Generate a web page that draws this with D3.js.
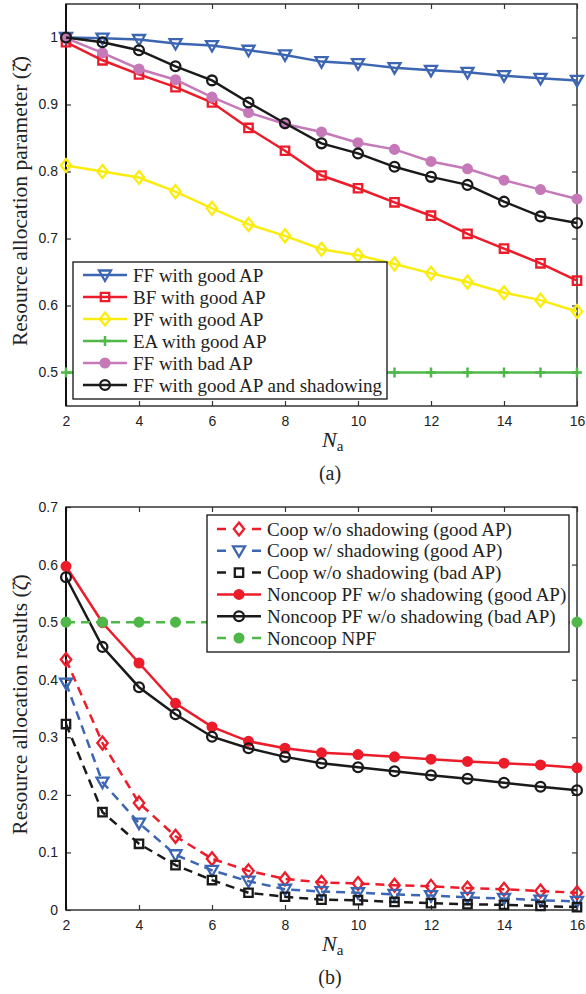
<!DOCTYPE html>
<html>
<head>
<meta charset="utf-8">
<script src="https://cdn.jsdelivr.net/npm/d3@7"></script>
<style>
  body { margin: 0; background: #fff; }
  svg { display: block; }
  .tick text { font-family: "Liberation Sans", Arial, sans-serif; font-size: 14px; fill: #222; }
  .serif { font-family: "Liberation Serif", "Times New Roman", serif; fill: #222; }
</style>
</head>
<body>
<script>
// number of APs on the x axis
const naValues = [2, 3, 4, 5, 6, 7, 8, 9, 10, 11, 12, 13, 14, 15, 16];
const xTicks = [2, 4, 6, 8, 10, 12, 14, 16];

// panel (a): resource allocation parameter
const ffGoodAP = [1.0, 0.999, 0.997, 0.991, 0.988, 0.981, 0.974, 0.964, 0.961, 0.955, 0.951, 0.948, 0.943, 0.939, 0.936];
const bfGoodAP = [0.993, 0.966, 0.945, 0.926, 0.903, 0.865, 0.831, 0.794, 0.775, 0.754, 0.734, 0.707, 0.685, 0.663, 0.637];
const pfGoodAP = [0.809, 0.800, 0.791, 0.770, 0.745, 0.721, 0.704, 0.684, 0.675, 0.662, 0.648, 0.635, 0.619, 0.608, 0.591];
const eaGoodAP = [0.5, 0.5, 0.5, 0.5, 0.5, 0.5, 0.5, 0.5, 0.5, 0.5, 0.5, 0.5, 0.5, 0.5, 0.5];
const ffBadAP = [0.999, 0.977, 0.953, 0.937, 0.911, 0.888, 0.871, 0.859, 0.843, 0.833, 0.815, 0.804, 0.787, 0.773, 0.759];
const ffGoodAPShadow = [1.0, 0.993, 0.981, 0.957, 0.936, 0.903, 0.872, 0.842, 0.827, 0.807, 0.792, 0.780, 0.755, 0.733, 0.723];
const yTicksA = [0.5, 0.6, 0.7, 0.8, 0.9, 1];

// panel (b): resource allocation results
const coopGoodAP = [0.435, 0.290, 0.186, 0.128, 0.089, 0.068, 0.054, 0.048, 0.046, 0.043, 0.041, 0.038, 0.036, 0.033, 0.030];
const coopShadowGoodAP = [0.394, 0.222, 0.151, 0.096, 0.069, 0.050, 0.036, 0.032, 0.030, 0.027, 0.025, 0.022, 0.020, 0.017, 0.015];
const coopBadAP = [0.323, 0.170, 0.115, 0.078, 0.052, 0.030, 0.023, 0.018, 0.017, 0.014, 0.012, 0.010, 0.009, 0.007, 0.005];
const noncoopGoodAP = [0.597, 0.499, 0.429, 0.359, 0.318, 0.293, 0.281, 0.273, 0.270, 0.266, 0.262, 0.258, 0.255, 0.252, 0.247];
const noncoopBadAP = [0.578, 0.457, 0.387, 0.340, 0.301, 0.281, 0.266, 0.255, 0.248, 0.241, 0.234, 0.228, 0.221, 0.214, 0.208];
const noncoopNPF = [0.5, 0.5, 0.5, 0.5, 0.5, 0.5, 0.5, 0.5, 0.5, 0.5, 0.5, 0.5, 0.5, 0.5, 0.5];
const yTicksB = [0, 0.1, 0.2, 0.3, 0.4, 0.5, 0.6, 0.7];

const colors = {
    blue: '#3d66b2',
    red: '#ec1c2a',
    yellow: '#fbec10',
    green: '#4fb848',
    pink: '#c679b8',
    black: '#1a1a1a'
};

const svg = d3.select('body').append('svg')
    .attr('width', 586)
    .attr('height', 994);

// marker path generators, centred on 0,0
const markerPath = {
    tri: 'M-6,-4.5 L6,-4.5 L0,6 Z',
    square: 'M-4.2,-4.2 H4.2 V4.2 H-4.2 Z',
    diamond: 'M0,-6.5 L5.2,0 L0,6.5 L-5.2,0 Z',
    circle: d3.symbol(d3.symbolCircle, 75)(),
    dot: d3.symbol(d3.symbolCircle, 60)(),
    plus: 'M-5,0 H5 M0,-5 V5'
};

function drawMarker(g, shape, color, cx, cy) {
    const filled = shape === 'dot';
    g.append('path')
        .attr('d', markerPath[shape])
        .attr('transform', `translate(${cx},${cy})`)
        .attr('fill', filled ? color : 'none')
        .attr('stroke', color)
        .attr('stroke-width', shape === 'plus' ? 2.5 : 2.3);
}

function drawPanel(opts) {
    const x = d3.scaleLinear().domain([2, 16]).range([66, 577]);
    const y = d3.scaleLinear().domain(opts.yDomain).range([opts.bottom, opts.top]);
    const g = svg.append('g');

    // axes, ticks pointing inwards on every side
    g.append('g')
        .attr('transform', `translate(0,${opts.bottom})`)
        .call(d3.axisBottom(x).tickValues(xTicks).tickSizeInner(-5).tickSizeOuter(0).tickPadding(10));
    g.append('g')
        .attr('transform', `translate(0,${opts.top})`)
        .call(d3.axisTop(x).tickValues(xTicks).tickSizeInner(-5).tickSizeOuter(0).tickFormat(''));
    g.append('g')
        .attr('transform', 'translate(66,0)')
        .call(d3.axisLeft(y).tickValues(opts.yTicks).tickSizeInner(-5).tickSizeOuter(0).tickPadding(8)
            .tickFormat(d => String(+d.toFixed(1))));
    g.append('g')
        .attr('transform', 'translate(577,0)')
        .call(d3.axisRight(y).tickValues(opts.yTicks).tickSizeInner(-5).tickSizeOuter(0).tickFormat(''));
    g.selectAll('.domain').remove();
    g.selectAll('.tick line').attr('stroke', '#333').attr('stroke-width', 1.2);

    // plot frame
    g.append('rect')
        .attr('x', 66).attr('y', opts.top)
        .attr('width', 577 - 66).attr('height', opts.bottom - opts.top)
        .attr('fill', 'none')
        .attr('stroke', '#333')
        .attr('stroke-width', 1.5);
    g.append('line')
        .attr('x1', 66).attr('x2', 66)
        .attr('y1', opts.top).attr('y2', opts.bottom)
        .attr('stroke', '#111').attr('stroke-width', 2);

    // series lines and markers
    const line = d3.line()
        .x((d, i) => x(naValues[i]))
        .y(d => y(d));
    opts.series.forEach((s) => {
        g.append('path')
            .datum(s.values)
            .attr('d', line)
            .attr('fill', 'none')
            .attr('stroke', s.color)
            .attr('stroke-width', 2.5)
            .attr('stroke-dasharray', s.dashed ? '9,6' : null);
        s.values.forEach((v, i) => drawMarker(g, s.marker, s.color, x(naValues[i]), y(v)));
    });

    // legend box on top of the lines
    const lg = opts.legend;
    const legend = g.append('g');
    legend.append('rect')
        .attr('x', lg.x).attr('y', lg.y)
        .attr('width', lg.width).attr('height', lg.height)
        .attr('fill', '#fff')
        .attr('stroke', '#111')
        .attr('stroke-width', 1.3);
    opts.series.forEach((s, i) => {
        const cy = lg.y + lg.firstRow + i * lg.rowStep;
        const x0 = lg.x + 10;
        const x1 = x0 + 44;
        legend.append('line')
            .attr('x1', x0).attr('x2', x1)
            .attr('y1', cy).attr('y2', cy)
            .attr('stroke', s.color)
            .attr('stroke-width', 2.5)
            .attr('stroke-dasharray', s.dashed ? '9,26,9' : null);
        drawMarker(legend, s.marker, s.color, (x0 + x1) / 2, cy);
        legend.append('text')
            .attr('class', 'serif')
            .attr('x', x1 + 6)
            .attr('y', cy + 6.5)
            .attr('font-size', 19)
            .text(s.label);
    });

    // axis titles
    g.append('text')
        .attr('class', 'serif')
        .attr('transform', `translate(27,${(opts.top + opts.bottom) / 2 - 4}) rotate(-90)`)
        .attr('text-anchor', 'middle')
        .attr('font-size', 21.5)
        .text(opts.yLabel);
    const xl = g.append('text')
        .attr('class', 'serif')
        .attr('x', 322)
        .attr('y', opts.bottom + 41)
        .attr('font-size', 22);
    xl.append('tspan').attr('font-style', 'italic').text('N');
    xl.append('tspan').attr('font-size', 15).attr('dy', 4).text('a');
    g.append('text')
        .attr('class', 'serif')
        .attr('x', 330)
        .attr('y', opts.bottom + 74)
        .attr('text-anchor', 'middle')
        .attr('font-size', 20)
        .text(opts.caption);
}

drawPanel({
    top: 4,
    bottom: 406,
    yDomain: [0.45, 1.05],
    yTicks: yTicksA,
    yLabel: 'Resource allocation parameter (\u03B6\u0306)',
    caption: '(a)',
    legend: {x: 73, y: 262, width: 314, height: 137, firstRow: 13, rowStep: 22},
    series: [
        {label: 'FF with good AP', values: ffGoodAP, color: colors.blue, marker: 'tri'},
        {label: 'BF with good AP', values: bfGoodAP, color: colors.red, marker: 'square'},
        {label: 'PF with good AP', values: pfGoodAP, color: colors.yellow, marker: 'diamond'},
        {label: 'EA with good AP', values: eaGoodAP, color: colors.green, marker: 'plus'},
        {label: 'FF with bad AP', values: ffBadAP, color: colors.pink, marker: 'dot'},
        {label: 'FF with good AP and shadowing', values: ffGoodAPShadow, color: colors.black, marker: 'circle'}
    ]
});

drawPanel({
    top: 507,
    bottom: 910,
    yDomain: [0, 0.7],
    yTicks: yTicksB,
    yLabel: 'Resource allocation results (\u03B6\u0306)',
    caption: '(b)',
    legend: {x: 207, y: 515, width: 362, height: 137, firstRow: 14, rowStep: 21.8},
    series: [
        {label: 'Coop w/o shadowing (good AP)', values: coopGoodAP, color: colors.red, marker: 'diamond', dashed: true},
        {label: 'Coop w/ shadowing (good AP)', values: coopShadowGoodAP, color: colors.blue, marker: 'tri', dashed: true},
        {label: 'Coop w/o shadowing (bad AP)', values: coopBadAP, color: colors.black, marker: 'square', dashed: true},
        {label: 'Noncoop PF w/o shadowing (good AP)', values: noncoopGoodAP, color: colors.red, marker: 'dot'},
        {label: 'Noncoop PF w/o shadowing (bad AP)', values: noncoopBadAP, color: colors.black, marker: 'circle'},
        {label: 'Noncoop NPF', values: noncoopNPF, color: colors.green, marker: 'dot', dashed: true}
    ]
});
</script>
</body>
</html>
